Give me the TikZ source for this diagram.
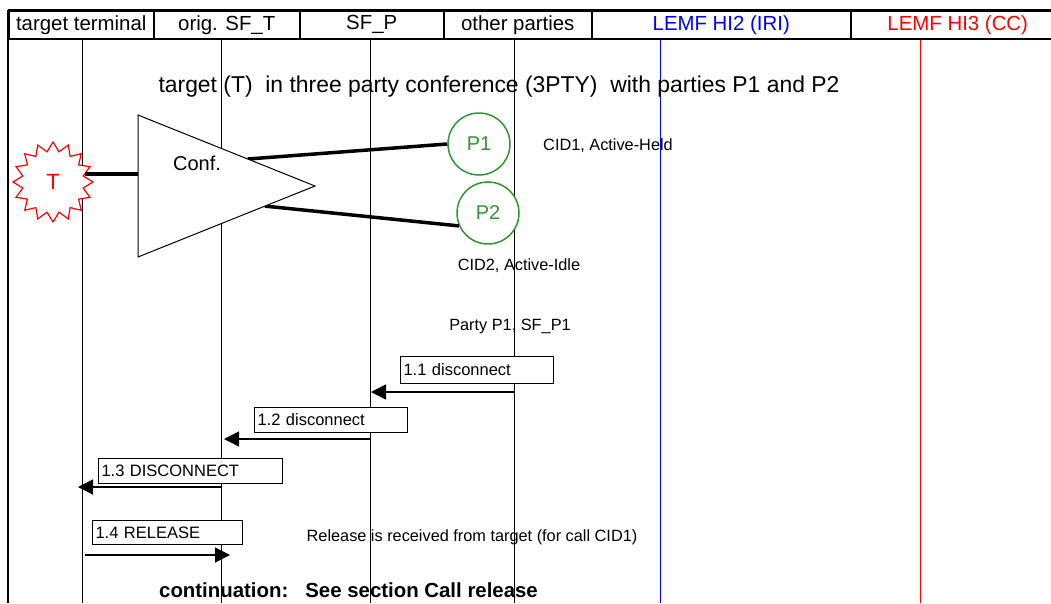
\documentclass[tikz,border=0pt]{standalone}
\usepackage{fontspec}
\setmainfont{Liberation Sans}
\usetikzlibrary{arrows.meta,shapes.geometric,calc}
\definecolor{pgreen}{RGB}{50,150,50}
\definecolor{lblue}{RGB}{0,0,255}
\definecolor{lred}{RGB}{255,0,0}
\begin{document}
\begin{tikzpicture}[x=1pt,y=-1pt,
  hcell/.style={draw,line width=1.5pt,anchor=north west,minimum height=28pt,inner sep=0pt,font=\fontsize{20.4}{24}\selectfont},
  life/.style={line width=1pt},
  link/.style={line width=3.5pt},
  msg/.style={line width=1.3pt,-{Triangle[length=15pt,width=15pt]}},
  msgbox/.style={draw,line width=1pt,fill=white,anchor=north west,inner xsep=3pt,inner ysep=0pt,font=\fontsize{16.5}{19}\selectfont,align=left},
  note/.style={font=\fontsize{16.3}{19}\selectfont},
  party/.style={circle,draw=pgreen,line width=1.5pt,fill=white,text=pgreen,minimum size=62pt,inner sep=0pt,font=\fontsize{20}{24}\selectfont}
]
\useasboundingbox (0,0) rectangle (1051,603);
% lifelines
\coordinate (L1t) at (82,38);  \coordinate (L1b) at (82,603);
\coordinate (L2t) at (221,38); \coordinate (L2b) at (221,603);
\coordinate (L3t) at (370,38); \coordinate (L3b) at (370,603);
\coordinate (L4t) at (514,38); \coordinate (L4b) at (514,603);
\coordinate (L5t) at (660,38); \coordinate (L5b) at (660,603);
\coordinate (L6t) at (920,38); \coordinate (L6b) at (920,603);
\draw[life] (L1t) -- (L1b);
\draw[life] (L2t) -- (L2b);
\draw[life] (L3t) -- (L3b);
\draw[life] (L4t) -- (L4b);
\draw[life,lblue] (L5t) -- (L5b);
\draw[life,lred] (L6t) -- (L6b);
% header
\node[hcell,minimum width=145pt] (h1) at (8,10) {target terminal};
\node[hcell,minimum width=146pt] (h2) at (153,10) {orig. SF\_T};
\node[hcell,minimum width=144pt] (h3) at (299,10) {SF\_P};
\node[hcell,minimum width=148pt] (h4) at (443,10) {other parties};
\node[hcell,minimum width=259pt,text=lblue] (h5) at (591,10) {LEMF HI2 (IRI)};
\node[hcell,minimum width=214pt,text=lred] (h6) at (850,10) {LEMF HI3 (CC)};
\draw[line width=3pt] (h1.north west) -- (h6.north east);
\coordinate (fb) at (8,603);
\draw[line width=2pt] (h1.north west) -- (fb);
% title
\node[font=\fontsize{22.9}{27}\selectfont] (title) at (499,87) {target (T)\ \ in three party conference (3PTY)\ \ with parties P1 and P2};
% conference
\coordinate (ta) at (138,115);
\coordinate (tb) at (138,257);
\coordinate (tc) at (315,186);
\node[party] (P1) at (479,144) {P1};
\node[party] (P2) at (488,213) {P2};
\draw[link] ($(ta)!0.62!(tc)$) -- (P1.west);
\draw[link] ($(tb)!0.717!(tc)$) -- (P2.204);
\draw[line width=1pt,fill=white] (ta) -- (tb) -- (tc) -- cycle;
\node[font=\fontsize{20}{24}\selectfont] (conf) at (197,163) {Conf.};
\node[star,star points=16,star point ratio=1.3,draw=lred,line width=1.2pt,fill=white,minimum size=80pt,inner sep=0pt,text=lred,font=\fontsize{22}{26}\selectfont] (T) at (53,182) {T};
\draw[link] (T.14) -- (T.14 -| ta);
\node[note] (cid1) at (608,146) {CID1, Active-Held};
\node[note] (cid2) at (519,266) {CID2, Active-Idle};
\node[note] (pp1) at (510,326) {Party P1, SF\_P1};
% messages
\node[msgbox,minimum width=153pt,minimum height=27pt,text width=147pt] (m1) at (400,356) {1.1 disconnect};
\coordinate (a1s) at (514,392); \coordinate (a1e) at (371,392);
\draw[msg] (a1s) -- (a1e);
\node[msgbox,minimum width=153pt,minimum height=25pt,text width=147pt] (m2) at (254,407) {1.2 disconnect};
\coordinate (a2s) at (370,439); \coordinate (a2e) at (224,439);
\draw[msg] (a2s) -- (a2e);
\node[msgbox,minimum width=184pt,minimum height=25pt,text width=178pt] (m3) at (98,458) {1.3 DISCONNECT};
\coordinate (a3s) at (221,487); \coordinate (a3e) at (78,487);
\draw[msg] (a3s) -- (a3e);
\node[msgbox,minimum width=150pt,minimum height=24pt,text width=144pt] (m4) at (92,520) {1.4 RELEASE};
\coordinate (a4s) at (85,555); \coordinate (a4e) at (230,555);
\draw[msg] (a4s) -- (a4e);
\node[note] (rel) at (472,537) {Release is received from target (for call CID1)};
\node[font=\bfseries\fontsize{20.4}{24}\selectfont] (cont) at (348.5,590) {continuation:\ \ \ See section Call release};
\end{tikzpicture}
\end{document}
